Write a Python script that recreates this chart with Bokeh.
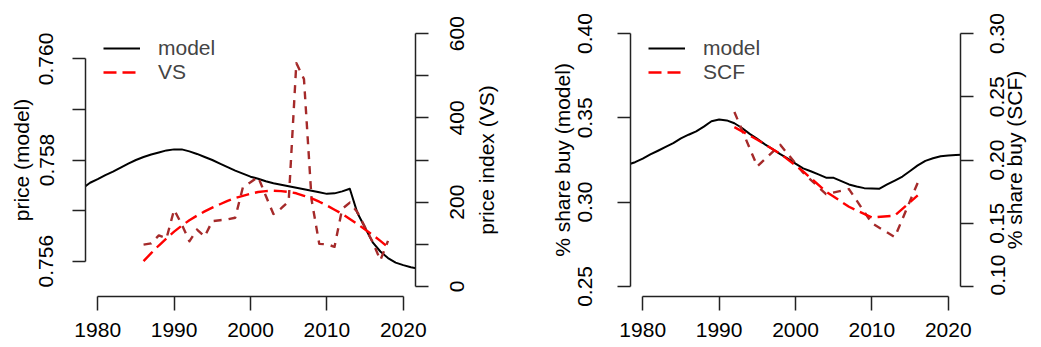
import math
from bokeh.plotting import figure
from bokeh.models import (Range1d, LinearAxis, FixedTicker, PrintfTickFormatter, Legend, LegendItem,
                          CustomJSTickFormatter)
from bokeh.layouts import row
from bokeh.embed import file_html
from bokeh.resources import INLINE

# ---------------- data ----------------
model_years = list(range(1978, 2023))
price_model = [0.75744, 0.75755, 0.75762, 0.75770, 0.75777, 0.75785, 0.75793, 0.75800, 0.75806, 0.75811,
               0.75815, 0.75819, 0.75821, 0.75821, 0.75817, 0.75812, 0.75806, 0.75800, 0.75793, 0.75786,
               0.75779, 0.75773, 0.75767, 0.75763, 0.75758, 0.75754, 0.75751, 0.75748, 0.75745, 0.75742,
               0.75739, 0.75736, 0.75733, 0.75734, 0.75738, 0.75743, 0.75695, 0.75666, 0.75637, 0.75619,
               0.75606, 0.75597, 0.75592, 0.75588, 0.75585]

vs_years = list(range(1986, 2019))
vs_index = [99, 102, 121, 114, 182, 147, 107, 135, 118, 155,
            157, 159, 163, 235, 247, 260, 215, 172, 185, 202,
            530, 492, 205, 101, 100, 94, 184, 199, 176, 140,
            105, 62, 108]
vs_fit = [60, 79, 97, 114, 130, 144, 157, 168, 178, 187,
          195, 203, 210, 215, 220, 224, 226, 227, 226, 224,
          221, 215, 209, 201, 192, 182, 172, 160, 148, 135,
          122, 108, 93]

share_model = [0.3222, 0.3237, 0.3258, 0.3283, 0.3305, 0.3328, 0.3350, 0.3378, 0.3400, 0.3420,
               0.3448, 0.3480, 0.3490, 0.3485, 0.3468, 0.3440, 0.3405, 0.3375, 0.3343, 0.3315,
               0.3285, 0.3258, 0.3228, 0.3200, 0.3183, 0.3165, 0.3145, 0.3144, 0.3125, 0.3105,
               0.3093, 0.3083, 0.3081, 0.3080, 0.3105, 0.3128, 0.3152, 0.3185, 0.3218, 0.3245,
               0.3260, 0.3272, 0.3276, 0.3279, 0.3283]

scf_years = [1992, 1995, 1998, 2001, 2004, 2007, 2010, 2013, 2016]
scf_share = [0.238, 0.195, 0.212, 0.190, 0.173, 0.177, 0.150, 0.139, 0.182]
scf_fit = [0.226, 0.216, 0.205, 0.191, 0.175, 0.163, 0.1545, 0.156, 0.172]

x_ticks = [1980, 1990, 2000, 2010, 2020]
price_ticks = [0.756, 0.758, 0.760]
price_minor = [0.757, 0.759]
vs_ticks = [0, 200, 400, 600]
vs_minor = [100, 300, 500]
share_ticks = [0.25, 0.30, 0.35, 0.40]
scf_ticks = [0.10, 0.15, 0.20, 0.25, 0.30]

FONT = "Liberation Sans"
FSN = 21
FS = "%dpx" % FSN
AXC = "#222222"
TOP = 23
FRAME_H = 273
H = 347

# Arial / Liberation Sans advance widths (em) for the characters used
CW = {'.': .278, ' ': .278, 'p': .556, 'r': .333, 'i': .222, 'c': .5, 'e': .556, 'n': .556,
      'd': .556, 'x': .5, '(': .333, ')': .333, 'V': .667, 'S': .667, '%': .889, 's': .5,
      'h': .556, 'a': .556, 'b': .556, 'u': .556, 'y': .5, 'C': .722, 'F': .611}


def text_px(s):
    return sum(CW.get(ch, .556) for ch in s) * FSN


def base_style(ax):
    ax.major_tick_in = 0
    ax.minor_tick_in = 0
    ax.axis_line_color = AXC
    ax.major_tick_line_color = AXC
    ax.minor_tick_line_color = AXC
    ax.axis_line_width = 1.5
    ax.major_tick_line_width = 1.5
    ax.minor_tick_line_width = 1.5
    ax.major_label_text_font = FONT
    ax.major_label_text_font_size = FS
    ax.major_label_text_color = "black"
    ax.axis_label_text_font = FONT
    ax.axis_label_text_font_size = FS
    ax.axis_label_text_font_style = "normal"
    ax.axis_label_text_color = "black"


def style_axis(ax, ticks, minor, fmt, standoff, label, label_standoff):
    base_style(ax)
    ax.ticker = FixedTicker(ticks=ticks, minor_ticks=minor)
    ax.bounds = (min(ticks + minor), max(ticks + minor))
    ax.formatter = PrintfTickFormatter(format=fmt)
    ax.major_tick_out = 13
    ax.minor_tick_out = 13
    ax.major_label_standoff = standoff
    ax.axis_label = label
    ax.axis_label_standoff = label_standoff


def label_axis(positions, texts, standoff):
    """Axis drawing only rotated texts (reading bottom-to-top) starting at the given positions."""
    ax = LinearAxis(y_range_name="r")
    base_style(ax)
    ax.axis_line_color = None
    ax.major_tick_line_color = None
    ax.minor_tick_line_color = None
    ax.major_tick_out = 0
    ax.minor_tick_out = 0
    ax.ticker = FixedTicker(ticks=positions, minor_ticks=[])
    ax.formatter = CustomJSTickFormatter(args=dict(pos=positions, labels=texts),
                                         code="const i = pos.indexOf(tick); return i < 0 ? '' : labels[i];")
    ax.major_label_standoff = standoff
    ax.major_label_orientation = math.pi / 2
    return ax


def add_right_rule(p, ticks, minor):
    a = LinearAxis(y_range_name="r")
    base_style(a)
    a.ticker = FixedTicker(ticks=[], minor_ticks=ticks + minor)
    a.bounds = (min(ticks + minor), max(ticks + minor))
    a.major_tick_out = 13
    a.minor_tick_out = 13
    a.major_label_standoff = 0
    p.add_layout(a, "right")


def add_right_labels(p, lo, hi, ticks, fmt, title, s_lab, s_title):
    upp = (hi - lo) / FRAME_H
    texts = [fmt % t for t in ticks]
    pos = [max(t - text_px(s) / 2 * upp, lo + upp) for t, s in zip(ticks, texts)]
    b = label_axis(pos, texts, s_lab)
    b.bounds = (min(pos) - upp * 0.5, max(pos) + upp * 0.5)
    p.add_layout(b, "right")
    tp = (lo + hi) / 2 - text_px(title) / 2 * upp
    c = label_axis([tp], [title], s_title)
    c.bounds = (tp - upp, tp + upp)
    p.add_layout(c, "right")


def make_panel(width, min_left, min_right, yl, yr, left_cfg,
               x_data, y_model, raw_x, raw_y, fit_x, fit_y, name):
    p = figure(width=width, height=H,
               min_border_left=min_left, min_border_right=min_right,
               min_border_top=TOP, min_border_bottom=H - TOP - FRAME_H,
               x_range=Range1d(1978.4, 2021.6), y_range=Range1d(*yl),
               output_backend="svg", toolbar_location=None)
    p.extra_y_ranges = {"r": Range1d(*yr)}
    p.outline_line_color = None
    p.grid.visible = False
    p.background_fill_color = "white"
    p.border_fill_color = "white"

    xa = p.xaxis[0]
    style_axis(xa, x_ticks, [], "%d", 12, None, 0)
    xa.major_tick_out = 14
    xa.minor_tick_out = 14
    ya = p.yaxis[0]
    style_axis(ya, *left_cfg)
    ya.major_label_orientation = "parallel"

    r_model = p.line(x_data, y_model, line_color="black", line_width=2, line_join="round")
    p.line(raw_x, raw_y, y_range_name="r", line_color="#A52A2A", line_width=2.4,
           line_dash="8 7", line_join="round")
    r_fit = p.line(fit_x, fit_y, y_range_name="r", line_color="#FF0000", line_width=2.4,
                   line_dash="13 6", line_join="round")

    legend = Legend(items=[LegendItem(label="model", renderers=[r_model]),
                           LegendItem(label=name, renderers=[r_fit])],
                    location=(18, 212), padding=0, margin=0, spacing=0,
                    glyph_width=37, glyph_height=24, label_height=24, label_standoff=18,
                    label_text_font=FONT, label_text_font_size=FS,
                    border_line_color=None, background_fill_alpha=0)
    p.add_layout(legend)
    return p


# ---- left panel: price ----
VS_R = (-24, 624)
p1 = make_panel(520, 85, 105, (0.7553, 0.7607), VS_R,
                (price_ticks, price_minor, "%.3f", 19, "price (model)", 4),
                model_years, price_model, vs_years, vs_index, vs_years, vs_fit, "VS")
add_right_rule(p1, vs_ticks, vs_minor)
add_right_labels(p1, VS_R[0], VS_R[1], vs_ticks, "%d", "price index (VS)", 29, 12)

# ---- right panel: share buy ----
SCF_R = (0.092, 0.308)
p2 = make_panel(521, 110, 81, (0.244, 0.406), SCF_R,
                (share_ticks, [], "%.2f", 25, "% share buy (model)", 2),
                model_years, share_model, scf_years, scf_share, scf_years, scf_fit, "SCF")
add_right_rule(p2, scf_ticks, [])
add_right_labels(p2, SCF_R[0], SCF_R[1], scf_ticks, "%.2f", "% share buy (SCF)", 24, 0)

layout = row(p1, p2)
open("out.html", "w").write(file_html(layout, INLINE))
